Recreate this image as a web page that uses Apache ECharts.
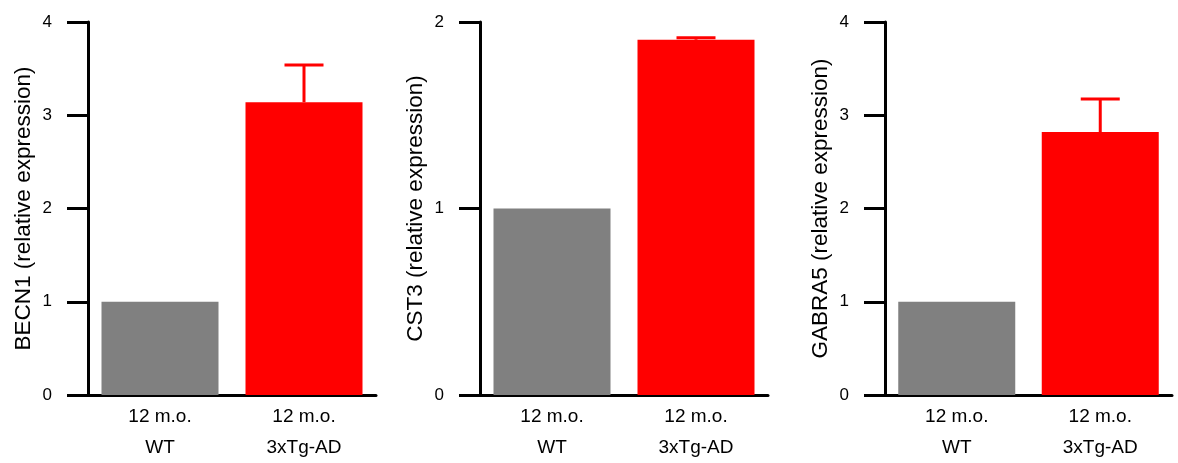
<!DOCTYPE html>
<html>
<head>
<meta charset="utf-8">
<script src="https://cdn.jsdelivr.net/npm/echarts@6/dist/echarts.min.js"></script>
<style>html,body{margin:0;padding:0;background:#fff;}#c{width:1178px;height:463px;}</style>
</head>
<body>
<div id="c"></div>
<script>
var categories = ['12 m.o.\nWT', '12 m.o.\n3xTg-AD'];
var axisNames = ['BECN1 (relative expression)', 'CST3 (relative expression)', 'GABRA5 (relative expression)'];
var becn1 = [1.0, 3.14];
var becn1Err = [0, 0.40];
var cst3 = [1.0, 1.905];
var cst3Err = [0, 0.01];
var gabra5 = [1.0, 2.82];
var gabra5Err = [0, 0.355];
var yMax = [4, 2, 4];
var barColors = ['#808080', '#ff0000'];

var values = [becn1, cst3, gabra5];
var errs = [becn1Err, cst3Err, gabra5Err];
var gridLefts = [88, 480, 885];
var gridWidths = [288, 288, 287];
var FONT = 'Liberation Sans, Arial, sans-serif';

var grids = [], xAxes = [], yAxes = [], series = [];
for (var i = 0; i < 3; i++) {
  grids.push({left: gridLefts[i], width: gridWidths[i], top: 22, height: 376, containLabel: false});
  xAxes.push({
    type: 'category', gridIndex: i, data: categories,
    axisLine: {lineStyle: {color: '#000', width: 3}},
    axisTick: {show: false},
    axisLabel: {color: '#000', fontSize: 19, fontFamily: FONT, lineHeight: 31, margin: 6}
  });
  yAxes.push({
    type: 'value', gridIndex: i, min: 0, max: yMax[i], interval: 1,
    name: axisNames[i], nameLocation: 'middle', nameGap: 53, nameRotate: 90,
    nameTextStyle: {color: '#000', fontSize: 22.5, fontFamily: FONT},
    axisLine: {show: true, lineStyle: {color: '#000', width: 3}},
    axisTick: {show: true, length: 21, lineStyle: {color: '#000', width: 3}},
    axisLabel: {color: '#000', fontSize: 17, fontFamily: FONT, margin: 36},
    splitLine: {show: false}
  });
  series.push({
    type: 'bar', xAxisIndex: i, yAxisIndex: i, barWidth: 117,
    data: values[i].map(function (v, k) { return {value: v, itemStyle: {color: barColors[k]}}; }),
    z: 2
  });
  var errData = [];
  for (var k = 0; k < values[i].length; k++) {
    if (errs[i][k] > 0) errData.push([k, values[i][k], values[i][k] + errs[i][k]]);
  }
  series.push({
    type: 'custom', xAxisIndex: i, yAxisIndex: i, data: errData, z: 3,
    renderItem: function (params, api) {
      var x = api.value(0);
      var lo = api.coord([x, api.value(1)]);
      var hi = api.coord([x, api.value(2)]);
      var hw = 19.5;
      var st = {stroke: '#ff0000', lineWidth: 3};
      return {type: 'group', children: [
        {type: 'line', shape: {x1: lo[0], y1: lo[1], x2: hi[0], y2: hi[1]}, style: st},
        {type: 'line', shape: {x1: hi[0] - hw, y1: hi[1], x2: hi[0] + hw, y2: hi[1]}, style: st}
      ]};
    }
  });
}

var chart = echarts.init(document.getElementById('c'), null, {renderer: 'canvas'});
chart.setOption({
  animation: false,
  backgroundColor: '#fff',
  grid: grids, xAxis: xAxes, yAxis: yAxes, series: series
});
</script>
</body>
</html>
